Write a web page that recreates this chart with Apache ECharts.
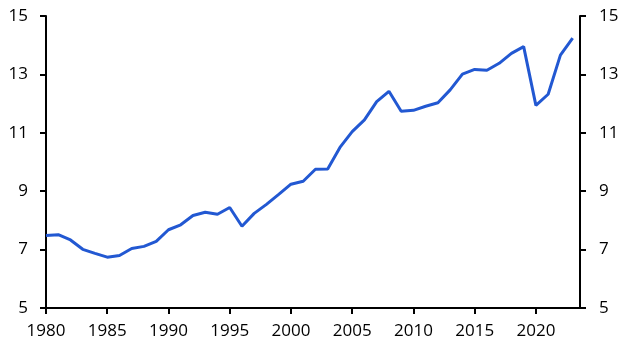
<!DOCTYPE html>
<html>
<head>
<meta charset="utf-8">
<script src="https://cdn.jsdelivr.net/npm/echarts@6/dist/echarts.min.js"></script>
<style>html,body{margin:0;padding:0;background:#fff}#c{width:630px;height:356px}</style>
</head>
<body>
<div id="c"></div>
<script>
const years = [1980,1981,1982,1983,1984,1985,1986,1987,1988,1989,1990,1991,1992,1993,1994,1995,1996,1997,1998,1999,2000,2001,2002,2003,2004,2005,2006,2007,2008,2009,2010,2011,2012,2013,2014,2015,2016,2017,2018,2019,2020,2021,2022,2023];
const values = [7.48,7.51,7.33,7.01,6.87,6.74,6.80,7.04,7.11,7.28,7.68,7.85,8.17,8.28,8.21,8.44,7.80,8.24,8.55,8.89,9.24,9.34,9.75,9.76,10.50,11.04,11.44,12.07,12.42,11.74,11.77,11.91,12.03,12.47,13.01,13.17,13.14,13.38,13.72,13.95,11.94,12.32,13.66,14.24];
const xTicks = [1980,1985,1990,1995,2000,2005,2010,2015,2020];
const yTicks = [5,7,9,11,13,15];

const chart = echarts.init(document.getElementById('c'), null, {renderer:'canvas'});
const font = 'Open Sans';
const fs = 17;
const axisLine = {show:true, onZero:false, lineStyle:{color:'#000', width:2}};
const yAxisBase = {
  type:'value', min:5, max:15, interval:2,
  axisLine: axisLine,
  axisTick:{show:true, inside:false, length:6, customValues:yTicks, lineStyle:{color:'#000', width:2}},
  splitLine:{show:false}
};
chart.setOption({
  animation:false,
  grid:{left:46, right:50, top:16, bottom:48, containLabel:false},
  xAxis:{
    type:'value', min:1980, max:2023.6,
    axisLine: axisLine,
    axisTick:{show:true, length:6, customValues:xTicks, lineStyle:{color:'#000', width:2}},
    axisLabel:{customValues:xTicks, formatter:v=>String(v), color:'#000', fontFamily:font, fontSize:fs, margin:15},
    splitLine:{show:false}
  },
  yAxis:[
    Object.assign({}, yAxisBase, {position:'left', axisLabel:{customValues:yTicks, formatter:v=>String(v), color:'#000', fontFamily:font, fontSize:fs, margin:18}}),
    Object.assign({}, yAxisBase, {position:'right', axisLabel:{customValues:yTicks, formatter:v=>String(v), color:'#000', fontFamily:font, fontSize:fs, margin:19}})
  ],
  series:[{
    type:'line', yAxisIndex:0,
    data: years.map((y,i)=>[y, values[i]]),
    showSymbol:false, symbol:'none',
    lineStyle:{color:'#2258d2', width:3},
    itemStyle:{color:'#2258d2'}
  }]
});
</script>
</body>
</html>
